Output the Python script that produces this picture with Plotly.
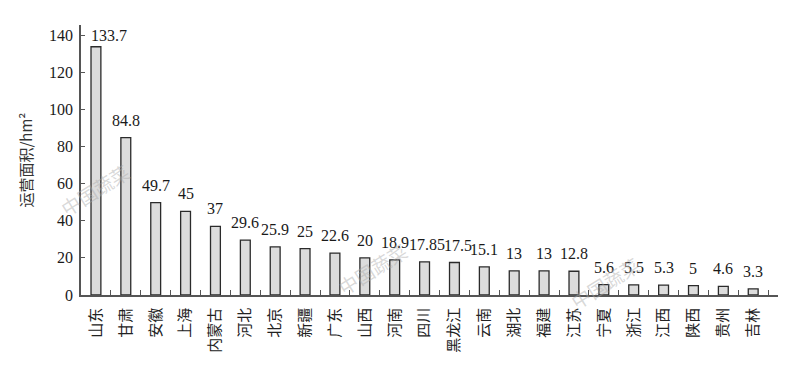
import plotly.graph_objects as go

provinces = ["山东", "甘肃", "安徽", "上海", "内蒙古", "河北", "北京", "新疆", "广东", "山西",
             "河南", "四川", "黑龙江", "云南", "湖北", "福建", "江苏", "宁夏", "浙江", "江西",
             "陕西", "贵州", "吉林"]
areas = [133.7, 84.8, 49.7, 45, 37, 29.6, 25.9, 25, 22.6, 20,
         18.9, 17.85, 17.5, 15.1, 13, 13, 12.8, 5.6, 5.5, 5.3,
         5, 4.6, 3.3]
area_labels = ["133.7", "84.8", "49.7", "45", "37", "29.6", "25.9", "25", "22.6", "20",
               "18.9", "17.85", "17.5", "15.1", "13", "13", "12.8", "5.6", "5.5", "5.3",
               "5", "4.6", "3.3"]
y_ticks = [0, 20, 40, 60, 80, 100, 120, 140]
y_title = "运营面积/hm²"
watermark = "中国蔬菜"

serif = "'Times New Roman', 'Liberation Serif', 'DejaVu Serif', serif"
cjk = "'Noto Sans CJK SC', sans-serif"

# small label nudges seen in the reference (label index -> (xshift, yshift))
label_nudge = {0: (13, 1), 11: (2, 7), 12: (4, 7)}

fig = go.Figure()
fig.add_trace(go.Bar(
    x=provinces, y=areas, width=0.33,
    marker=dict(color="#dcdcdc", line=dict(color="#2b2b2b", width=1.3)),
    hoverinfo="x+y",
))

annotations = []
for i, (p, v, t) in enumerate(zip(provinces, areas, area_labels)):
    xs, ys = label_nudge.get(i, (0, 7))
    annotations.append(dict(x=p, y=v, text=t, xref="x", yref="y", showarrow=False,
                            yanchor="bottom", yshift=ys, xshift=xs,
                            font=dict(family=serif, size=16, color="#1a1a1a")))

for wx, wy in [(0.020, 0.389), (0.418, 0.10), (0.752, 0.045)]:
    annotations.append(dict(x=wx, y=wy, xref="paper", yref="paper", text=watermark,
                            showarrow=False, textangle=-32, xanchor="center", yanchor="middle",
                            font=dict(family=cjk, size=19, color="rgba(170,170,170,0.45)")))

# page body has an 8px margin, so the figure is drawn 8px in from the window edge
fig.update_layout(
    width=794, height=374,
    margin=dict(l=73, r=24, t=17, b=87),
    paper_bgcolor="white", plot_bgcolor="white",
    showlegend=False,
    annotations=annotations,
    xaxis=dict(
        type="category", range=[-0.5, 22.83], automargin=False,
        showline=True, linecolor="#555555", linewidth=1.5,
        ticks="inside", tickson="boundaries", ticklen=5, tickcolor="#555555", tickwidth=1.2,
        tickangle=-90, tickfont=dict(family=cjk, size=15, color="#222222"),
        ticklabelstandoff=5,
        showgrid=False, zeroline=False,
    ),
    yaxis=dict(
        range=[0, 145.4], tickvals=y_ticks, automargin=False,
        showline=True, linecolor="#555555", linewidth=1.5,
        ticks="inside", ticklen=4, tickcolor="#555555", tickwidth=1.2,
        tickfont=dict(family=serif, size=16, color="#1a1a1a"),
        ticklabelstandoff=3,
        showgrid=False, zeroline=False,
        title=dict(text=y_title, font=dict(family=cjk, size=15, color="#333333"), standoff=13),
    ),
)

fig.write_html("out.html")
